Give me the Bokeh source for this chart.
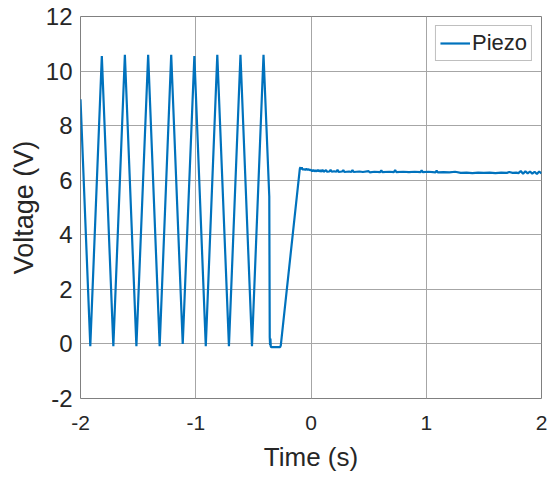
from bokeh.plotting import figure
from bokeh.models import Legend, LegendItem, FixedTicker, Range1d
from bokeh.embed import file_html
from bokeh.resources import INLINE

# ---- data ----
osc_time = [-2.0, -1.915, -1.815, -1.715, -1.615, -1.515, -1.413, -1.313, -1.213,
            -1.113, -1.012, -0.913, -0.813, -0.712, -0.612, -0.512, -0.412]
osc_volt = [8.97, -0.08, 10.55, -0.08, 10.6, -0.08, 10.6, -0.08, 10.6,
            0.0, 10.55, -0.08, 10.6, -0.08, 10.6, -0.08, 10.6]

drop_time = [-0.362, -0.358, -0.355, -0.352, -0.349, -0.34, -0.30, -0.268, -0.262]
drop_volt = [5.4, 0.25, -0.05, 0.2, -0.1, -0.12, -0.12, -0.12, -0.05]

hold_time = [-0.097, -0.092, -0.088, -0.08, -0.075, -0.06, -0.05, -0.04, -0.03, -0.02,
             -0.01, 0.0, 0.01, 0.02, 0.03, 0.04, 0.05, 0.06, 0.07, 0.08,
             0.09, 0.10, 0.11, 0.13, 0.14, 0.16, 0.17, 0.18, 0.20, 0.22,
             0.23, 0.24, 0.27, 0.28, 0.29, 0.33, 0.35, 0.36, 0.37, 0.42,
             0.45, 0.50, 0.51, 0.55, 0.60, 0.61, 0.62, 0.68, 0.72, 0.73,
             0.74, 0.80, 0.85, 0.90, 0.95, 0.96, 0.97, 1.02, 1.08, 1.09,
             1.10, 1.15, 1.20, 1.25, 1.30, 1.35, 1.40, 1.45, 1.50, 1.55,
             1.60, 1.65, 1.70, 1.72, 1.75, 1.78, 1.80, 1.82, 1.84, 1.86,
             1.88, 1.90, 1.92, 1.94, 1.96, 1.98, 2.0]
hold_volt = [6.42, 6.48, 6.40, 6.47, 6.40, 6.40, 6.38, 6.42, 6.38, 6.40,
             6.37, 6.38, 6.33, 6.38, 6.32, 6.37, 6.32, 6.38, 6.32, 6.37,
             6.31, 6.38, 6.31, 6.37, 6.31, 6.32, 6.38, 6.31, 6.33, 6.31,
             6.38, 6.30, 6.32, 6.37, 6.30, 6.32, 6.30, 6.37, 6.30, 6.32,
             6.30, 6.33, 6.29, 6.31, 6.30, 6.36, 6.30, 6.31, 6.30, 6.37,
             6.30, 6.31, 6.30, 6.31, 6.30, 6.36, 6.30, 6.31, 6.29, 6.35,
             6.29, 6.30, 6.29, 6.31, 6.27, 6.28, 6.26, 6.28, 6.27, 6.28,
             6.26, 6.28, 6.27, 6.30, 6.27, 6.28, 6.26, 6.34, 6.24, 6.33,
             6.25, 6.32, 6.24, 6.31, 6.23, 6.32, 6.25]

x_ticks = [-2, -1, 0, 1, 2]
y_ticks = [-2, 0, 2, 4, 6, 8, 10, 12]
series_name = "Piezo"

time = osc_time + drop_time + hold_time
volt = osc_volt + drop_volt + hold_volt

FONT = "Liberation Sans"
TXT = "#262626"

p = figure(width=549, height=477, output_backend="svg", toolbar_location=None,
           x_range=Range1d(-2, 2), y_range=Range1d(-2, 12),
           min_border_left=80, min_border_right=8, min_border_top=16, min_border_bottom=79)

p.outline_line_color = "#808080"
p.outline_line_width = 1
p.background_fill_color = "white"
p.border_fill_color = "white"

r = p.line(time, volt, line_color="#0072BD", line_width=2.2)

for ax in (p.xaxis[0], p.yaxis[0]):
    ax.axis_line_color = None
    ax.major_tick_line_color = None
    ax.minor_tick_line_color = None
    ax.major_tick_out = 0
    ax.major_tick_in = 0
    ax.minor_tick_out = 0
    ax.minor_tick_in = 0
    ax.major_label_text_font = FONT
    ax.major_label_text_color = TXT
    ax.axis_label_text_font = FONT
    ax.axis_label_text_font_style = "normal"
    ax.axis_label_text_color = TXT

p.xaxis.major_label_text_font_size = "21px"
p.yaxis.major_label_text_font_size = "24px"
p.xaxis.axis_label_text_font_size = "26px"
p.yaxis.axis_label_text_font_size = "27px"

p.xaxis.ticker = FixedTicker(ticks=x_ticks)
p.yaxis.ticker = FixedTicker(ticks=y_ticks)
p.xaxis.major_label_overrides = {t: str(t) for t in x_ticks}
p.yaxis.major_label_overrides = {t: str(t) for t in y_ticks}
p.xaxis.axis_label = "Time (s)"
p.yaxis.axis_label = "Voltage (V)"
p.xaxis.major_label_standoff = 17
p.yaxis.major_label_standoff = 8
p.xaxis.axis_label_standoff = 9
p.yaxis.axis_label_standoff = 4

p.xgrid.grid_line_color = "#a6a6a6"
p.ygrid.grid_line_color = "#a6a6a6"
p.xgrid.grid_line_width = 1
p.ygrid.grid_line_width = 1

legend = Legend(items=[LegendItem(label=series_name, renderers=[r])],
                location="top_right")
legend.label_text_font = FONT
legend.label_text_font_size = "22px"
legend.label_text_color = TXT
legend.border_line_color = "#808080"
legend.border_line_width = 1
legend.background_fill_color = "white"
legend.glyph_width = 30
legend.glyph_height = 24
legend.label_height = 24
legend.padding = 4
legend.spacing = 0
legend.margin = 9
legend.label_standoff = 2
p.add_layout(legend)

open("out.html", "w").write(file_html(p, INLINE))
